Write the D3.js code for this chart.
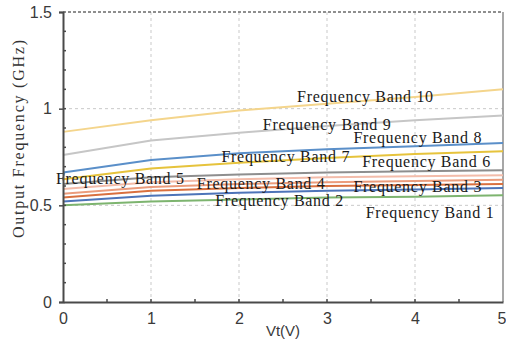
<!DOCTYPE html>
<html>
<head>
<meta charset="utf-8">
<script src="https://cdn.jsdelivr.net/npm/d3@7"></script>
<style>
  html, body { margin: 0; padding: 0; background: #fff; }
  svg { display: block; }
</style>
</head>
<body>
<svg id="chart" width="506" height="342"></svg>
<script>
// Tuning voltage samples (V)
const vt = [0, 1, 2, 3, 4, 5];

// Output frequency (GHz) of each band versus Vt
const band1  = [0.500, 0.520, 0.530, 0.540, 0.545, 0.552];
const band2  = [0.520, 0.550, 0.565, 0.575, 0.582, 0.590];
const band3  = [0.540, 0.575, 0.590, 0.600, 0.605, 0.610];
const band4  = [0.560, 0.595, 0.610, 0.620, 0.626, 0.632];
const band5  = [0.585, 0.620, 0.635, 0.645, 0.650, 0.656];
const band6  = [0.610, 0.645, 0.660, 0.670, 0.676, 0.682];
const band7  = [0.635, 0.690, 0.720, 0.745, 0.765, 0.780];
const band8  = [0.670, 0.735, 0.770, 0.790, 0.806, 0.822];
const band9  = [0.760, 0.835, 0.875, 0.910, 0.940, 0.965];
const band10 = [0.880, 0.940, 0.990, 1.025, 1.060, 1.100];

const bandNames = ["Frequency Band 1", "Frequency Band 2", "Frequency Band 3",
  "Frequency Band 4", "Frequency Band 5", "Frequency Band 6", "Frequency Band 7",
  "Frequency Band 8", "Frequency Band 9", "Frequency Band 10"];

const xTicks = [0, 1, 2, 3, 4, 5];
const yTicks = [0, 0.5, 1, 1.5];
const yTickLabels = ["0", "0.5", "1", "1.5"];

const seriesValues = [band1, band2, band3, band4, band5, band6, band7, band8, band9, band10];
const colors = ["#7db46f", "#4d74b8", "#d9703f", "#eb9c7c", "#f3bcaa",
                "#8e8e8e", "#e6c33c", "#5a8fc9", "#c6c6c6", "#f4d58c"];

// Label anchor points in data units (left edge, vertical centre)
const labelX = [3.44, 1.73, 3.30, 1.52, -0.08, 3.40, 1.80, 3.30, 2.27, 2.66];
const labelY = [0.465, 0.526, 0.600, 0.612, 0.638, 0.728, 0.755, 0.850, 0.919, 1.063];

const svg = d3.select("#chart");
const margin = { left: 63, right: 3, top: 12, bottom: 40 };
const W = 506, H = 342;

const x = d3.scaleLinear().domain([0, 5]).range([margin.left, W - margin.right]);
const y = d3.scaleLinear().domain([0, 1.5]).range([H - margin.bottom, margin.top]);

const serif = "'Liberation Serif', 'DejaVu Serif', serif";
const sans = "'Liberation Sans', 'Noto Sans', sans-serif";

// grid lines
const grid = svg.append("g");
grid.selectAll("line.vx").data([1, 2, 3, 4]).join("line")
  .attr("x1", d => x(d)).attr("x2", d => x(d))
  .attr("y1", y(1.5)).attr("y2", y(0))
  .attr("stroke", "#c9c9c9").attr("stroke-width", 1)
  .attr("stroke-dasharray", "3,3");
grid.selectAll("line.hy").data([0.5, 1]).join("line")
  .attr("x1", x(0)).attr("x2", x(5))
  .attr("y1", d => y(d)).attr("y2", d => y(d))
  .attr("stroke", "#c9c9c9").attr("stroke-width", 1)
  .attr("stroke-dasharray", "3,3");

// frame: top dashed, right solid
svg.append("line").attr("x1", x(0)).attr("x2", x(5)).attr("y1", y(1.5)).attr("y2", y(1.5))
  .attr("stroke", "#6a6a6a").attr("stroke-width", 1.5).attr("stroke-dasharray", "3,2");
svg.append("line").attr("x1", x(5)).attr("x2", x(5)).attr("y1", y(1.5)).attr("y2", y(0))
  .attr("stroke", "#8a8a8a").attr("stroke-width", 1.5);

// curves
const line = d3.line().x((d, i) => x(vt[i])).y(d => y(d));
svg.append("g").selectAll("path").data(seriesValues).join("path")
  .attr("d", d => line(d))
  .attr("fill", "none")
  .attr("stroke", (d, i) => colors[i])
  .attr("stroke-width", 2)
  .attr("stroke-linejoin", "round");

// band labels
svg.append("g").selectAll("text").data(bandNames).join("text")
  .attr("x", (d, i) => x(labelX[i]))
  .attr("y", (d, i) => y(labelY[i]))
  .attr("dy", "0.35em")
  .attr("font-family", serif)
  .attr("font-size", 16)
  .attr("fill", "#1a1a1a")
  .attr("textLength", d => d.length * 8)
  .attr("lengthAdjust", "spacing")
  .text(d => d);

// axes
const xAxis = d3.axisBottom(x).tickValues(xTicks).tickFormat(d3.format("d")).tickSize(0).tickPadding(11);
const gx = svg.append("g").attr("transform", `translate(0,${y(0)})`).call(xAxis);
gx.select(".domain").attr("stroke", "#4a4a4a").attr("stroke-width", 2);
gx.selectAll("text").attr("font-family", sans).attr("font-size", 16).attr("fill", "#3a3a3a");
// keep the last tick label inside the page edge
gx.selectAll(".tick").filter(d => d === 5).select("text").attr("text-anchor", "end").attr("dx", 3);

const yAxis = d3.axisLeft(y).tickValues(yTicks).tickFormat((d, i) => yTickLabels[i]).tickSize(4).tickPadding(7);
const gy = svg.append("g").attr("transform", `translate(${x(0)},0)`).call(yAxis);
gy.select(".domain").attr("stroke", "#4a4a4a").attr("stroke-width", 2);
gy.selectAll(".tick line").attr("stroke", "#4a4a4a").attr("stroke-width", 1.5);
gy.selectAll("text").attr("font-family", sans).attr("font-size", 16).attr("fill", "#3a3a3a");

// minor ticks
const yMinor = d3.range(0.1, 1.5, 0.1);
svg.append("g").selectAll("line").data(yMinor).join("line")
  .attr("x1", x(0)).attr("x2", x(0) + 3)
  .attr("y1", d => y(d)).attr("y2", d => y(d))
  .attr("stroke", "#4a4a4a").attr("stroke-width", 1.5);
const xMinor = d3.range(0.5, 5, 0.5);
svg.append("g").selectAll("line").data(xMinor).join("line")
  .attr("x1", d => x(d)).attr("x2", d => x(d))
  .attr("y1", y(0)).attr("y2", y(0) - 3)
  .attr("stroke", "#4a4a4a").attr("stroke-width", 1.5);

// axis titles
svg.append("text")
  .attr("x", 283).attr("y", 336)
  .attr("text-anchor", "middle")
  .attr("font-family", sans).attr("font-size", 15).attr("fill", "#3a3a3a")
  .text("Vt(V)");

svg.append("text")
  .attr("transform", "translate(18,139) rotate(-90)")
  .attr("text-anchor", "middle")
  .attr("dy", "0.35em")
  .attr("font-family", serif).attr("font-size", 16).attr("fill", "#333")
  .attr("textLength", 198).attr("lengthAdjust", "spacing")
  .text("Output Frequency (GHz)");
</script>
</body>
</html>
